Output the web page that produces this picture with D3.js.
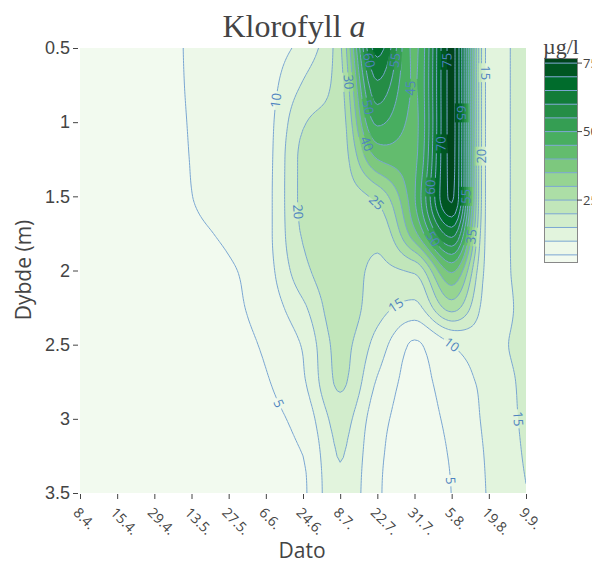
<!DOCTYPE html>
<html>
<head>
<meta charset="utf-8">
<script src="https://cdn.jsdelivr.net/npm/d3@7"></script>
<style>
  body { margin: 0; background: #fff; }
</style>
</head>
<body>
<svg id="chart" width="592" height="563"></svg>
<script>
// sampling dates (categories on x)
var dates = ["8.4.", "15.4.", "29.4.", "13.5.", "27.5.", "6.6.", "24.6.",
             "8.7.", "22.7.", "31.7.", "5.8.", "19.8.", "9.9."];
// depths (m)
var depths = [0.5, 0.75, 1, 1.25, 1.5, 1.75, 2, 2.25, 2.5, 2.75, 3, 3.25, 3.5];

// chlorophyll a, ug/l -- one row per depth, one value per date
var chl = [
  [2.6, 3.1, 3.9, 5.35, 7.0, 8.0, 11.8, 24.0, 67.0, 44.0, 76.5, 13.5, 18.0],
  [2.6, 3.1, 3.9, 5.3,  7.1, 8.3, 15.5, 23.0, 59.0, 44.5, 76.5, 13.5, 18.0],
  [2.6, 3.1, 3.9, 5.2,  7.2, 8.5, 19.5, 22.5, 51.0, 44.0, 76.5, 13.5, 18.0],
  [2.6, 3.1, 3.8, 5.1,  7.2, 8.6, 21.0, 22.5, 40.0, 44.0, 76.3, 13.5, 18.0],
  [2.6, 3.0, 3.7, 4.95, 7.0, 8.7, 21.0, 22.5, 26.5, 44.5, 75.8, 13.5, 18.0],
  [2.5, 2.9, 3.4, 4.3,  5.7, 8.5, 20.4, 22.5, 21.5, 38.5, 62.0, 13.5, 18.0],
  [2.5, 2.8, 3.1, 3.8,  4.6, 7.9, 18.5, 23.0, 19.0, 21.0, 41.0, 13.5, 17.8],
  [2.5, 2.7, 2.9, 3.4,  4.2, 6.9, 14.0, 23.0, 17.0, 13.5, 27.0, 13.0, 17.5],
  [2.4, 2.6, 2.8, 3.1,  3.8, 5.6, 10.5, 21.5, 13.0, 4.5,  10.0, 13.0, 17.0],
  [2.4, 2.6, 2.7, 2.9,  3.5, 4.7, 9.3,  20.8, 9.5,  3.5,  7.6,  11.5, 16.5],
  [2.4, 2.5, 2.6, 2.7,  3.2, 4.0, 6.7,  17.0, 7.0,  3.2,  6.2,  11.2, 16.0],
  [2.4, 2.5, 2.6, 2.6,  3.0, 3.7, 5.0,  15.2, 6.0,  3.0,  5.4,  10.7, 15.5],
  [2.4, 2.5, 2.6, 2.5,  3.0, 3.5, 4.5,  14.5, 5.6,  3.0,  5.05, 10.4, 14.8]
];

var levels = d3.range(5, 76, 5);
var depthTicks = [0.5, 1, 1.5, 2, 2.5, 3, 3.5];
var barTicks = [25, 50, 75];

// where the contour labels sit: [level, date index, depth]
var labelAnchors = [
  [10, 5.46, 0.87], [20, 5.92, 1.61], [5, 5.44, 2.89], [30, 7.21, 0.72],
  [60, 7.67, 0.59], [55, 8.56, 0.59], [45, 8.88, 0.78], [50, 7.75, 0.90],
  [40, 7.83, 1.14], [75, 9.96, 0.59], [65, 10.31, 0.93], [70, 9.88, 1.15],
  [60, 9.42, 1.44], [55, 10.36, 1.50], [50, 9.61, 1.77], [35, 10.55, 1.78],
  [15, 10.98, 0.67], [20, 10.98, 1.23], [25, 7.97, 1.54], [15, 8.80, 2.35],
  [10, 10.01, 2.50], [15, 11.57, 3.01], [5, 10.01, 3.41]
];

var greens = ["rgb(247,252,245)", "rgb(229,245,224)", "rgb(199,233,192)",
              "rgb(161,217,155)", "rgb(116,196,118)", "rgb(65,171,93)",
              "rgb(35,139,69)", "rgb(0,109,44)", "rgb(0,68,27)"];

var lineColor = "#7aa6d2";
var labelColor = "#4f84c0";
var sans = "'Open Sans', 'Liberation Sans', sans-serif";
var serif = "'Liberation Serif', 'Times New Roman', serif";

var pL = 80, pR = 526, pT = 48, pB = 493;

var svg = d3.select("#chart");

var x = d3.scalePoint().domain(dates).range([pL, pR]);
var xi = d3.scaleLinear().domain([0, dates.length - 1]).range([pL, pR]);
var y = d3.scaleLinear().domain([depths[0], depths[depths.length - 1]]).range([pT, pB]);
var yi = d3.scaleLinear().domain([0, depths.length - 1]).range([pT, pB]);

var zmin = d3.min(chl, r => d3.min(r));
var zmax = d3.max(chl, r => d3.max(r));
var color = d3.scaleLinear()
  .domain(greens.map((c, i) => zmin + i / (greens.length - 1) * (zmax - zmin)))
  .range(greens);

function bandColor(lo) {
  var hi = lo + 5;
  if (lo < zmin) lo = zmin;
  return color(Math.min((lo + hi) / 2, zmax));
}

// monotone (Steffen) slopes, so the smoothing does not overshoot
function slopes(ys) {
  var n = ys.length, s = [], m = [];
  for (var k = 0; k < n - 1; k++) s.push(ys[k + 1] - ys[k]);
  for (var i = 1; i < n - 1; i++) {
    var p = (s[i - 1] + s[i]) / 2;
    m[i] = (Math.sign(s[i - 1]) + Math.sign(s[i])) *
           Math.min(Math.abs(s[i - 1]), Math.abs(s[i]), 0.5 * Math.abs(p));
  }
  function edge(a, b) {
    var p = 1.5 * a - 0.5 * b;
    if (p * a <= 0) return 0;
    if (Math.abs(p) > 2 * Math.abs(a)) return 2 * a;
    return p;
  }
  m[0] = edge(s[0], s[1]);
  m[n - 1] = edge(s[n - 2], s[n - 3]);
  return m;
}
function hermite(ys, m, t) {
  var i = Math.min(Math.floor(t), ys.length - 2), u = t - i;
  var u2 = u * u, u3 = u2 * u;
  return (2 * u3 - 3 * u2 + 1) * ys[i] + (u3 - 2 * u2 + u) * m[i] +
         (-2 * u3 + 3 * u2) * ys[i + 1] + (u3 - u2) * m[i + 1];
}

// finer grid for drawing
var S = 12;
var NX = (dates.length - 1) * S + 1, NY = (depths.length - 1) * S + 1;
var rowsFine = chl.map(function(r) {
  var m = slopes(r);
  return d3.range(NX).map(j => hermite(r, m, j / S));
});
var values = new Array(NX * NY);
for (var j = 0; j < NX; j++) {
  var col = rowsFine.map(r => r[j]);
  var mm = slopes(col);
  for (var k = 0; k < NY; k++) values[k * NX + j] = hermite(col, mm, k / S);
}

var contours = d3.contours().size([NX, NY]).thresholds(levels)(values);

var proj = d3.geoTransform({
  point: function(px, py) {
    this.stream.point(xi((px - 0.5) / S), yi((py - 0.5) / S));
  }
});
var path = d3.geoPath(proj);

var defs = svg.append("defs");
defs.append("clipPath").attr("id", "plotclip")
  .append("rect").attr("x", pL).attr("y", pT)
  .attr("width", pR - pL).attr("height", pB - pT);

var plot = svg.append("g").attr("clip-path", "url(#plotclip)");
plot.append("rect").attr("x", pL).attr("y", pT)
  .attr("width", pR - pL).attr("height", pB - pT)
  .attr("fill", bandColor(zmin));

plot.selectAll("path.band")
  .data(contours)
  .join("path")
    .attr("class", "band")
    .attr("d", path)
    .attr("fill", d => bandColor(d.value));

var mask = defs.append("mask").attr("id", "lblmask")
  .attr("maskUnits", "userSpaceOnUse")
  .attr("x", 0).attr("y", 0).attr("width", 592).attr("height", 563);
mask.append("rect").attr("width", 592).attr("height", 563).attr("fill", "white");

plot.append("g").attr("mask", "url(#lblmask)")
  .selectAll("path")
  .data(contours)
  .join("path")
    .attr("d", path)
    .attr("fill", "none")
    .attr("stroke", lineColor)
    .attr("stroke-width", 1);

// contour labels along the lines
var labels = svg.append("g");
labelAnchors.forEach(function(a) {
  var c = contours.find(d => d.value === a[0]);
  if (!c) return;
  var tx = xi(a[1]), ty = y(a[2]);
  var best = null, bd = Infinity;
  c.coordinates.forEach(function(poly) {
    poly.forEach(function(ring) {
      ring.forEach(function(p, i) {
        if (p[0] <= 1 || p[0] >= NX - 1 || p[1] <= 1 || p[1] >= NY - 1) return;
        var px = xi((p[0] - 0.5) / S), py = yi((p[1] - 0.5) / S);
        var dd = (px - tx) * (px - tx) + (py - ty) * (py - ty);
        if (dd < bd) { bd = dd; best = {ring: ring, i: i, x: px, y: py}; }
      });
    });
  });
  if (!best) return;
  var n = best.ring.length;
  var p0 = best.ring[(best.i - 3 + n) % n], p1 = best.ring[(best.i + 3) % n];
  var ang = Math.atan2(yi((p1[1] - 0.5) / S) - yi((p0[1] - 0.5) / S),
                       xi((p1[0] - 0.5) / S) - xi((p0[0] - 0.5) / S)) * 180 / Math.PI;
  if (ang > 90) ang -= 180;
  if (ang <= -90) ang += 180;
  var t = labels.append("text")
    .attr("transform", `translate(${best.x},${best.y}) rotate(${ang})`)
    .attr("text-anchor", "middle")
    .attr("dy", "0.35em")
    .style("font-family", sans)
    .style("font-size", "13px")
    .attr("fill", labelColor)
    .text(a[0]);
  var w = t.node().getComputedTextLength() + 4;
  mask.append("rect")
    .attr("transform", `translate(${best.x},${best.y}) rotate(${ang})`)
    .attr("x", -w / 2).attr("y", -7).attr("width", w).attr("height", 14)
    .attr("fill", "black");
});

// y axis
var yAxis = svg.append("g")
  .attr("transform", `translate(${pL - 2},0)`)
  .call(d3.axisLeft(y).tickValues(depthTicks).tickFormat(d3.format("")).tickSize(5).tickPadding(3));
yAxis.select(".domain").remove();
yAxis.selectAll("line").attr("stroke", "#444");
yAxis.selectAll("text").attr("fill", "#444")
  .style("font-family", "'Liberation Sans', Arial, sans-serif").style("font-size", "18px");

// x axis
var xAxis = svg.append("g")
  .attr("transform", `translate(0,${pB + 1})`)
  .call(d3.axisBottom(x).tickSize(5).tickFormat(""));
xAxis.select(".domain").remove();
xAxis.selectAll("line").attr("stroke", "#444");
svg.append("g").selectAll("text")
  .data(dates)
  .join("text")
    .attr("transform", d => `translate(${x(d) - 4},${pB + 17}) rotate(45)`)
    .attr("text-anchor", "start")
    .attr("dy", "0.35em")
    .style("font-family", sans)
    .style("font-size", "14px")
    .attr("fill", "#444")
    .text(d => d);

// titles
var title = svg.append("text")
  .attr("x", 294).attr("y", 37)
  .attr("text-anchor", "middle")
  .style("font-family", serif)
  .style("font-size", "32px")
  .attr("fill", "#444");
title.append("tspan").text("Klorofyll ");
title.append("tspan").style("font-style", "italic").text("a");

svg.append("text")
  .attr("x", 302).attr("y", 558)
  .attr("text-anchor", "middle")
  .style("font-family", sans)
  .style("font-size", "21px")
  .attr("fill", "#444")
  .text("Dato");

svg.append("text")
  .attr("transform", "translate(31,270) rotate(-90)")
  .attr("text-anchor", "middle")
  .style("font-family", sans)
  .style("font-size", "21px")
  .attr("fill", "#444")
  .text("Dybde (m)");

// colour bar
var cbX = 545, cbW = 32;
var cb = d3.scaleLinear().domain([zmin, zmax]).range([262, 59]);
var cbg = svg.append("g");
var edges = [zmin].concat(levels.filter(l => l > zmin && l < zmax)).concat([zmax]);
cbg.selectAll("rect.cb")
  .data(d3.pairs(edges))
  .join("rect")
    .attr("class", "cb")
    .attr("x", cbX).attr("width", cbW)
    .attr("y", d => cb(d[1]))
    .attr("height", d => cb(d[0]) - cb(d[1]))
    .attr("fill", d => bandColor(d[0]));
cbg.selectAll("line.lv")
  .data(levels)
  .join("line")
    .attr("class", "lv")
    .attr("x1", cbX).attr("x2", cbX + cbW)
    .attr("y1", d => cb(d)).attr("y2", d => cb(d))
    .attr("stroke", lineColor).attr("stroke-width", 1);
cbg.append("rect")
  .attr("x", cbX - 0.5).attr("y", 58.5).attr("width", cbW + 1).attr("height", 204)
  .attr("fill", "none").attr("stroke", "#888").attr("stroke-width", 1);
cbg.selectAll("line.tk")
  .data(barTicks)
  .join("line")
    .attr("class", "tk")
    .attr("x1", cbX + cbW).attr("x2", cbX + cbW + 5)
    .attr("y1", d => cb(d)).attr("y2", d => cb(d))
    .attr("stroke", "#444");
cbg.selectAll("text.tk")
  .data(barTicks)
  .join("text")
    .attr("class", "tk")
    .attr("x", cbX + cbW + 6).attr("y", d => cb(d))
    .attr("dy", "0.35em")
    .style("font-family", sans)
    .style("font-size", "13px")
    .attr("fill", "#444")
    .text(d => d);
svg.append("text")
  .attr("x", 543).attr("y", 54)
  .style("font-family", serif)
  .style("font-size", "22px")
  .attr("fill", "#444")
  .text("µg/l");
</script>
</body>
</html>
